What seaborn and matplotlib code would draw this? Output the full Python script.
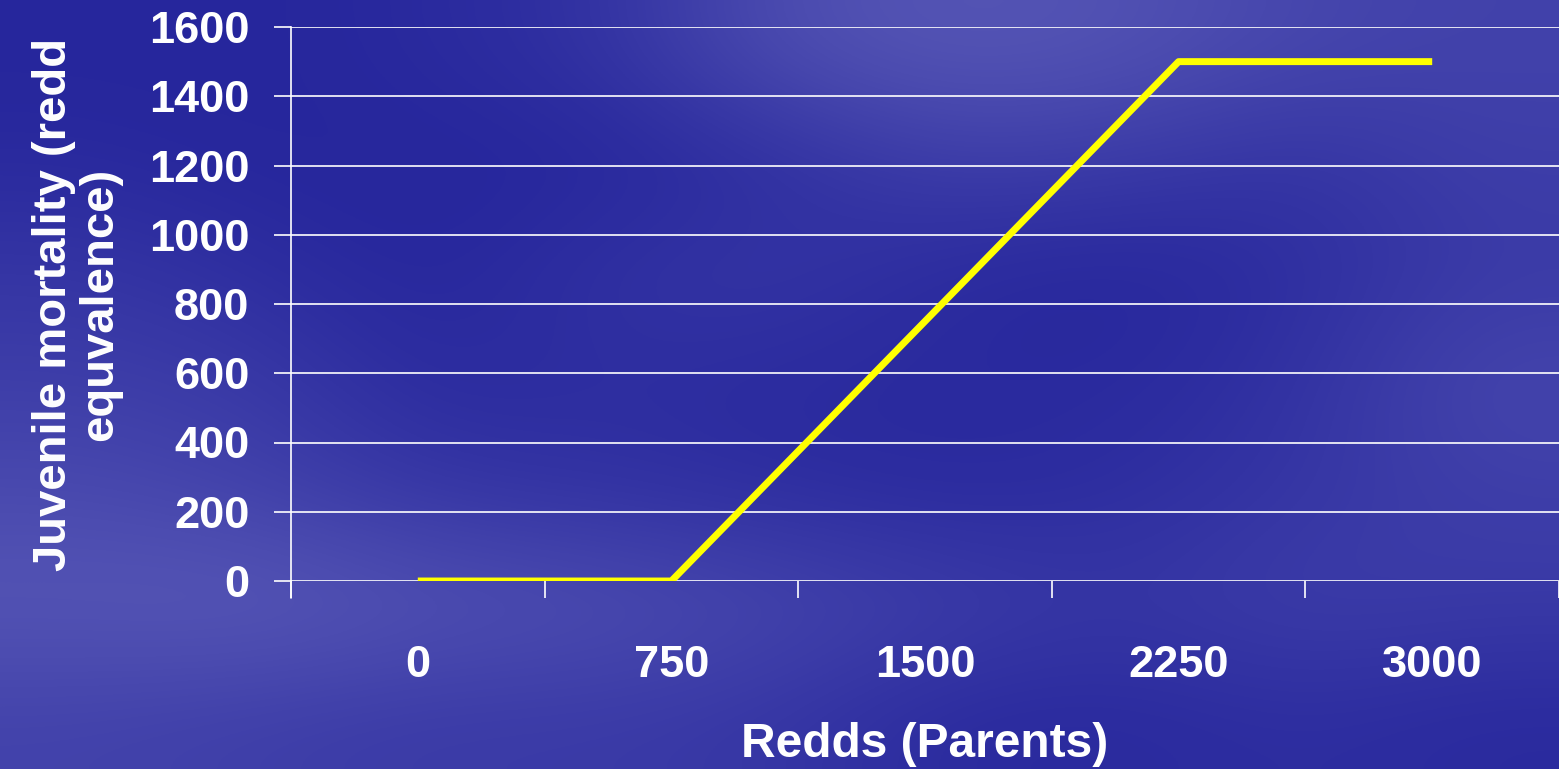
import numpy as np
import matplotlib
matplotlib.use('Agg')
import matplotlib.pyplot as plt
from matplotlib.colors import LinearSegmentedColormap
import seaborn as sns

# dane
redds = [0, 750, 2250, 3000]
mortality = [0, 0, 1500, 1500]
x_ticks = [0, 750, 1500, 2250, 3000]
y_ticks = [0, 200, 400, 600, 800, 1000, 1200, 1400, 1600]

sns.set_theme(style='white')
plt.rcParams['font.family'] = ['Liberation Sans', 'DejaVu Sans']
plt.rcParams['font.weight'] = 'bold'

fig = plt.figure(figsize=(15.59, 7.69), dpi=100)

# tlo - niebieska "tekstura" jak w slajdzie (jasnosc reczna, siatka zgrubna)
bg = fig.add_axes([0, 0, 1, 1])
brightness = np.array([
    [0.05, 0.05, 0.10, 0.20, 0.55, 0.65, 0.60, 0.45, 0.40],
    [0.10, 0.05, 0.05, 0.05, 0.15, 0.35, 0.30, 0.20, 0.35],
    [0.25, 0.15, 0.05, 0.20, 0.25, 0.10, 0.05, 0.15, 0.30],
    [0.35, 0.30, 0.10, 0.15, 0.10, 0.10, 0.10, 0.20, 0.45],
    [0.50, 0.40, 0.25, 0.20, 0.15, 0.10, 0.15, 0.25, 0.35],
    [0.65, 0.70, 0.60, 0.55, 0.45, 0.35, 0.25, 0.35, 0.30],
    [0.40, 0.35, 0.30, 0.30, 0.25, 0.10, 0.10, 0.15, 0.10],
])
cmap = LinearSegmentedColormap.from_list('slajd', ['#22229a', '#7272c4'])
bg.imshow(brightness, cmap=cmap, aspect='auto', interpolation='bicubic',
          extent=[0, 1, 0, 1], vmin=0, vmax=1)
bg.set_axis_off()

ax = fig.add_axes([291 / 1559, 1 - 581 / 769, 1268 / 1559, 554 / 769])
ax.patch.set_alpha(0)

sns.lineplot(x=redds, y=mortality, ax=ax, color='#ffff00', linewidth=5,
             solid_capstyle='butt')

ax.set_xlim(-375, 3375)
ax.set_ylim(0, 1600)
ax.set_xticks(x_ticks)
ax.set_xticklabels([str(v) for v in x_ticks])
ax.set_xticks([t - 375 for t in x_ticks] + [3375], minor=True)
ax.set_yticks(y_ticks)

ax.yaxis.grid(True, color='white', linewidth=1.2)
ax.xaxis.grid(False)
for side in ['top', 'right', 'bottom']:
    ax.spines[side].set_visible(False)
ax.spines['left'].set_color('white')
ax.spines['left'].set_linewidth(1.2)
ax.spines['left'].set_bounds(0, 1600)

ax.tick_params(axis='x', which='major', length=0, pad=46, labelsize=32.5,
               labelcolor='white')
ax.tick_params(axis='x', which='minor', length=12, width=1.2, color='white',
               direction='out', bottom=True)
ax.tick_params(axis='y', length=12, width=1.2, color='white', direction='out',
               left=True, pad=18, labelsize=32.5, labelcolor='white')
for lab in ax.get_xticklabels() + ax.get_yticklabels():
    lab.set_fontweight('bold')

# przedluzenie osi y ponizej zera (linia do konca tickow)
ax.plot([-375, -375], [0, -50], color='white', linewidth=1.2, clip_on=False)

ax.set_xlabel('Redds (Parents)', fontsize=34.5, fontweight='bold', color='white')
ax.xaxis.set_label_coords(0.5, -(722 - 581) / 554)
ax.xaxis.label.set_va('top')

ax.set_ylabel('Juvenile mortality (redd\nequvalence)', fontsize=34,
              fontweight='bold', color='white', linespacing=1.05)
ax.yaxis.set_label_coords(-(291 - 122) / 1268, 0.5)

fig.savefig('out.png', dpi=100)
